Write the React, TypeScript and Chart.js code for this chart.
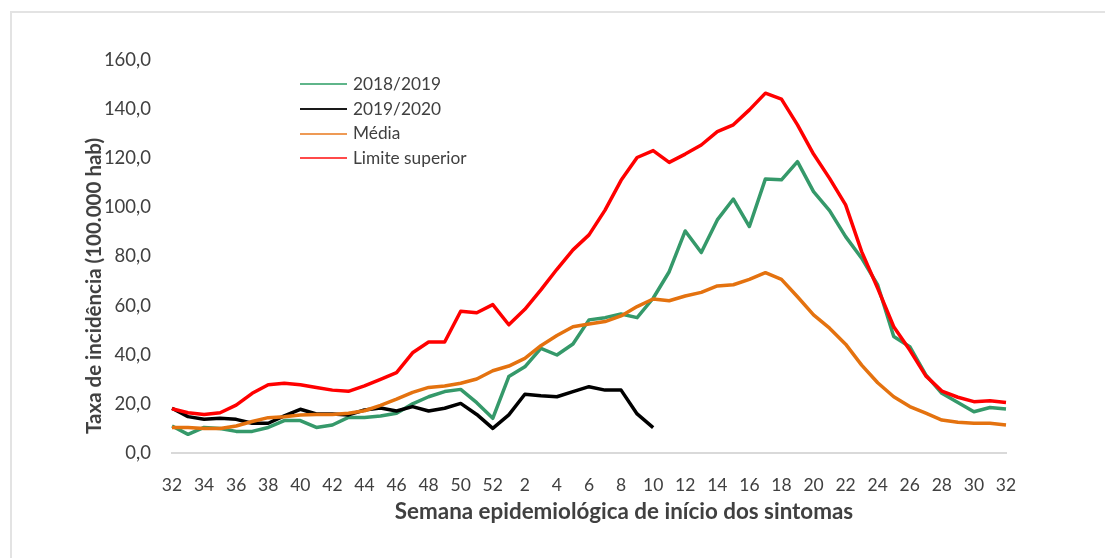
import React, { useEffect, useRef } from "react";
import { Chart, registerables } from "chart.js";

Chart.register(...registerables);

const weeks: string[] = [
  "32", "33", "34", "35", "36", "37", "38", "39", "40", "41", "42", "43", "44", "45", "46", "47", "48", "49", "50", "51", "52",
  "1", "2", "3", "4", "5", "6", "7", "8", "9", "10", "11", "12", "13", "14", "15", "16", "17", "18", "19", "20",
  "21", "22", "23", "24", "25", "26", "27", "28", "29", "30", "31", "32",
];

const season2018: number[] = [
  11.0, 7.6, 10.4, 10.0, 8.8, 8.8, 10.4, 13.2, 13.2, 10.4,
  11.4, 14.5, 14.5, 15.1, 16.2, 20.0, 22.9, 25.0, 25.9, 20.5,
  14.1, 31.1, 35.1, 42.6, 39.9, 44.4, 54.2, 55.1, 56.6, 55.1,
  63.0, 73.8, 90.4, 81.6, 94.9, 103.4, 92.2, 111.6, 111.2, 118.6,
  106.4, 98.7, 88.1, 79.3, 68.4, 47.4, 43.3, 31.8, 24.3, 20.6,
  16.8, 18.5, 17.9,
];

const season2019: (number | null)[] = [
  18.2, 14.8, 13.7, 14.1, 13.7, 12.1, 12.1, 15.1, 17.8, 15.9,
  15.9, 15.5, 17.5, 18.3, 17.1, 18.9, 17.1, 18.2, 20.2, 15.7,
  10.0, 15.5, 23.9, 23.3, 22.9, 25.0, 27.0, 25.6, 25.6, 15.9,
  10.3, null, null, null, null, null, null, null, null, null,
  null, null, null, null, null, null, null, null, null, null,
  null, null, null,
];

const media: number[] = [
  10.4, 10.4, 10.0, 10.0, 11.0, 12.8, 14.4, 14.8, 15.5, 15.7,
  15.7, 16.2, 17.2, 19.4, 21.9, 24.7, 26.7, 27.3, 28.4, 30.1,
  33.5, 35.4, 38.5, 43.7, 47.8, 51.4, 52.5, 53.5, 55.8, 59.6,
  62.7, 62.0, 63.9, 65.4, 68.0, 68.5, 70.7, 73.4, 70.7, 63.6,
  56.2, 50.8, 44.3, 35.8, 28.6, 22.9, 18.9, 16.2, 13.4, 12.5,
  12.1, 12.1, 11.4,
];

const limiteSuperior: number[] = [
  18.0, 16.4, 15.7, 16.4, 19.5, 24.3, 27.8, 28.4, 27.8, 26.7,
  25.6, 25.1, 27.3, 30.0, 32.7, 40.8, 45.2, 45.2, 57.7, 57.1,
  60.4, 52.2, 58.5, 66.4, 74.8, 82.7, 88.8, 98.9, 111.0, 120.3,
  123.1, 118.3, 121.7, 125.4, 130.8, 133.6, 139.7, 146.5, 144.1, 133.6,
  121.7, 111.8, 101.0, 82.0, 67.1, 51.4, 41.9, 31.4, 25.2, 22.7,
  20.9, 21.3, 20.6,
];

const yTicks: number[] = [0, 20, 40, 60, 80, 100, 120, 140, 160];

const seriesNames = ["2018/2019", "2019/2020", "Média", "Limite superior"];
const seriesColors = ["#35996A", "#000000", "#E4720F", "#FF0000"];
const legendColors = ["#5FB58A", "#1a1a1a", "#EE9A55", "#FF4A4A"];

const FONT = "Lato, 'Open Sans', sans-serif";

export default function App() {
  const canvasRef = useRef<HTMLCanvasElement | null>(null);

  useEffect(() => {
    if (!canvasRef.current) return;
    const dataArrays = [season2018, season2019, media, limiteSuperior];
    const orders = [3, 2, 1, 0];
    const chart = new Chart(canvasRef.current, {
      type: "line",
      data: {
        labels: weeks,
        datasets: dataArrays.map((d, i) => ({
          label: seriesNames[i],
          data: d,
          borderColor: seriesColors[i],
          backgroundColor: seriesColors[i],
          borderWidth: 3.5,
          pointRadius: 0,
          pointHoverRadius: 0,
          tension: 0,
          fill: false,
          spanGaps: false,
          order: orders[i],
          borderJoinStyle: "round" as const,
        })),
      },
      options: {
        responsive: false,
        animation: false,
        layout: { padding: { top: 60, right: 99, bottom: 0, left: 0 } },
        plugins: {
          legend: { display: false },
          tooltip: { enabled: false },
          title: { display: false },
        },
        scales: {
          x: {
            type: "category",
            offset: false,
            afterFit: (scale: any) => {
              scale.height = 105;
            },
            grid: { display: true, color: "transparent", drawTicks: false },
            border: { display: true, color: "#D9D9D9", width: 2 },
            ticks: {
              autoSkip: false,
              maxRotation: 0,
              minRotation: 0,
              padding: 22,
              color: "#404040",
              font: { family: FONT, size: 17.5 },
              callback: function (this: any, value: any, index: number) {
                return index % 2 === 0 ? this.getLabelForValue(value) : "";
              },
            },
          },
          y: {
            min: 0,
            max: 160,
            afterFit: (scale: any) => {
              scale.width = 172;
            },
            afterBuildTicks: (scale: any) => {
              scale.ticks = yTicks.map((v) => ({ value: v }));
            },
            grid: { display: true, color: "transparent", drawTicks: false },
            border: { display: false },
            ticks: {
              padding: 21,
              color: "#404040",
              font: { family: FONT, size: 18.5 },
              callback: (v: any) => Number(v).toFixed(1).replace(".", ","),
            },
          },
        },
      },
    });
    return () => chart.destroy();
  }, []);

  return (
    <div
      style={{
        position: "fixed",
        left: 0,
        top: 0,
        width: 1105,
        height: 558,
        overflow: "hidden",
        background: "#fff",
      }}
    >
      <div
        style={{
          position: "absolute",
          left: 10,
          top: 11,
          width: 1200,
          height: 700,
          borderLeft: "2px solid #E3E3E3",
          borderTop: "2px solid #E3E3E3",
        }}
      />
      <canvas
        ref={canvasRef}
        width={1105}
        height={558}
        style={{ position: "absolute", left: 0, top: 0, width: 1105, height: 558 }}
      />
      <div
        style={{
          position: "absolute",
          left: 300,
          top: 72,
          fontFamily: FONT,
          fontSize: 17.3,
          color: "#404040",
          lineHeight: "24.7px",
        }}
      >
        {seriesNames.map((n, i) => (
          <div key={n} style={{ display: "flex", alignItems: "center", height: 24.7 }}>
            <span
              style={{
                display: "inline-block",
                width: 47,
                height: 2,
                background: legendColors[i],
                marginRight: 6,
              }}
            />
            <span>{n}</span>
          </div>
        ))}
      </div>
      <div
        style={{
          position: "absolute",
          left: 624,
          top: 510,
          transform: "translate(-50%, -50%)",
          whiteSpace: "nowrap",
          fontFamily: FONT,
          fontWeight: 700,
          fontSize: 22.4,
          color: "#404040",
        }}
      >
        Semana epidemiológica de início dos sintomas
      </div>
      <div
        style={{
          position: "absolute",
          left: 93,
          top: 286,
          transform: "translate(-50%, -50%) rotate(-90deg)",
          whiteSpace: "nowrap",
          fontFamily: FONT,
          fontWeight: 700,
          fontSize: 20.5,
          color: "#404040",
        }}
      >
        Taxa de incidência (100.000 hab)
      </div>
    </div>
  );
}
